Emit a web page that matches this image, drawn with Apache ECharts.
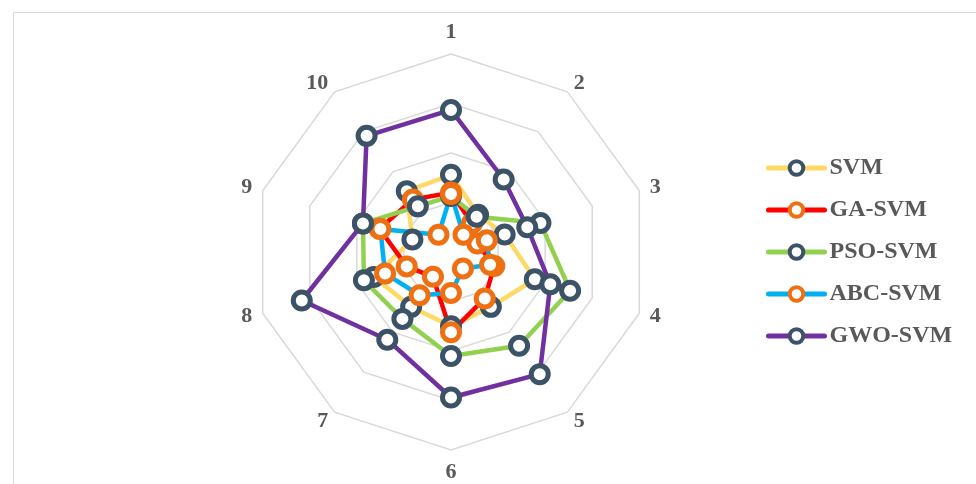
<!DOCTYPE html>
<html>
<head>
<meta charset="utf-8">
<script src="https://cdn.jsdelivr.net/npm/echarts@6/dist/echarts.min.js"></script>
<style>
  html, body { margin: 0; padding: 0; background: #ffffff; }
  #chart { width: 976px; height: 484px; }
</style>
</head>
<body>
<div id="chart"></div>
<script>
// Axis labels (clockwise from the top) and the five model series.
const axisLabels = ['1', '2', '3', '4', '5', '6', '7', '8', '9', '10'];
const seriesNames = ['SVM', 'GA-SVM', 'PSO-SVM', 'ABC-SVM', 'GWO-SVM'];
const svm    = [1.56, 0.93, 1.14, 1.78, 1.37, 1.50, 1.37, 1.64, 0.82, 1.52];
const gaSvm  = [1.20, 0.72, 0.56, 0.92, 1.16, 1.62, 0.62, 0.94, 1.52, 1.31];
const psoSvm = [1.13, 0.88, 1.90, 2.53, 2.34, 2.10, 1.67, 1.85, 1.87, 1.14];
const abcSvm = [1.17, 0.43, 0.76, 0.83, 0.41, 0.83, 1.08, 1.40, 1.50, 0.43];
const gwoSvm = [2.87, 1.81, 1.62, 2.11, 3.05, 2.94, 2.19, 3.17, 1.87, 2.90];
const axisMax = 4;

const lineColors = ['#FFD966', '#FF0000', '#92D050', '#00B0F0', '#7030A0'];
const markerColors = ['#3B5267', '#EE7012', '#3B5267', '#EE7012', '#3B5267'];
const allValues = [svm, gaSvm, psoSvm, abcSvm, gwoSvm];

// ECharts lays radar indicators out counter-clockwise, so walk the axes
// in reverse (keeping "1" on top) to get a clockwise layout.
const order = [0, 9, 8, 7, 6, 5, 4, 3, 2, 1];
const reorder = arr => order.map(i => arr[i]);

const serifFont = '"Liberation Serif", "Times New Roman", serif';

const chart = echarts.init(document.getElementById('chart'), null, { renderer: 'canvas' });

// Empty line series only lend the legend their "line + ring" icon;
// the radar series below draw the actual polygons.
const legendIconSeries = seriesNames.map((name, k) => ({
  type: 'line',
  name,
  data: [],
  symbol: 'circle',
  lineStyle: { color: lineColors[k], width: 4.5, cap: 'round' },
  itemStyle: { color: '#ffffff', borderColor: markerColors[k], borderWidth: 4 }
}));

const radarSeries = seriesNames.map((name, k) => ({
  type: 'radar',
  name,
  symbol: 'circle',
  symbolSize: 17,
  lineStyle: { color: lineColors[k], width: 4.5 },
  itemStyle: { color: '#ffffff', borderColor: markerColors[k], borderWidth: 5 },
  data: [{ name, value: reorder(allValues[k]) }]
}));

chart.setOption({
  backgroundColor: '#ffffff',
  animation: false,
  graphic: [{
    type: 'rect',
    shape: { x: 13.5, y: 12.5, width: 1000, height: 500 },
    style: { fill: 'none', stroke: '#D9D9D9', lineWidth: 1 },
    silent: true
  }],
  grid: { show: false, left: 0, top: 0, width: 1, height: 1 },
  xAxis: { type: 'category', show: false },
  yAxis: { type: 'value', show: false },
  legend: {
    orient: 'vertical',
    left: 761,
    top: 151,
    itemGap: 18,
    itemWidth: 56,
    itemHeight: 17,
    itemStyle: { borderWidth: 4 },
    lineStyle: { width: 5, cap: 'round' },
    textStyle: { color: '#595959', fontSize: 24, fontWeight: 'bold', fontFamily: serifFont },
    data: seriesNames
  },
  radar: {
    center: [451, 252],
    radius: 198,
    shape: 'polygon',
    splitNumber: 4,
    startAngle: 90,
    nameGap: 11,
    axisName: { color: '#595959', fontSize: 22, fontWeight: 'bold', fontFamily: serifFont },
    indicator: reorder(axisLabels).map(name => ({ name, min: 0, max: axisMax })),
    axisLine: { show: false },
    axisTick: { show: false },
    axisLabel: { show: false },
    splitArea: { show: false },
    splitLine: { lineStyle: { color: '#D9D9D9', width: 1.5 } }
  },
  series: legendIconSeries.concat(radarSeries)
});
</script>
</body>
</html>
